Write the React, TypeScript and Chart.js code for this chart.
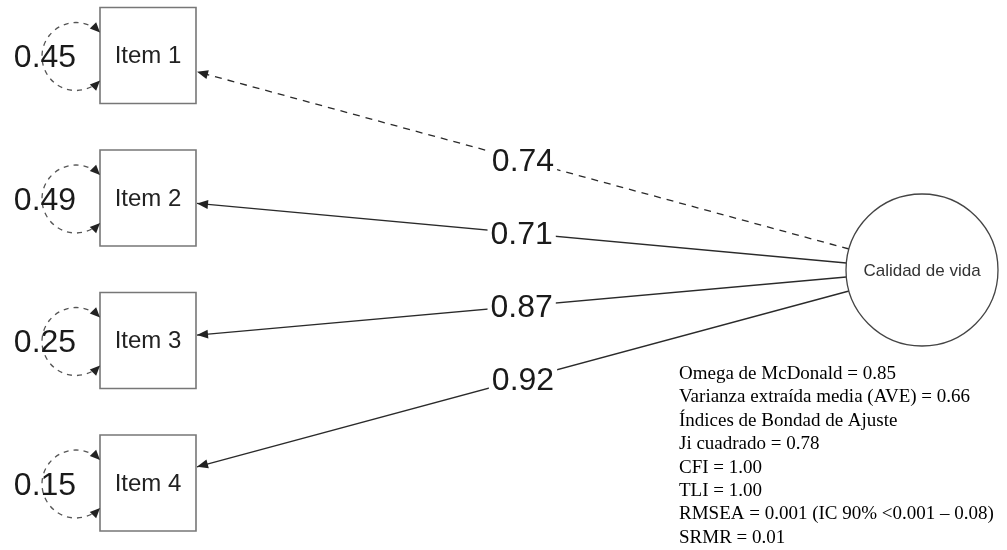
import React, { useEffect, useRef } from 'react';
import { Chart, registerables } from 'chart.js';

Chart.register(...registerables);

// ---- data ----
const items: string[] = ['Item 1', 'Item 2', 'Item 3', 'Item 4'];
const loadings: number[] = [0.74, 0.71, 0.87, 0.92];
const residuals: number[] = [0.45, 0.49, 0.25, 0.15];
const fixedLoading: boolean[] = [true, false, false, false];
const latentName = 'Calidad de vida';
const fitLines: string[] = [
  'Omega de McDonald = 0.85',
  'Varianza extraída media (AVE) = 0.66',
  'Índices de Bondad de Ajuste',
  'Ji cuadrado = 0.78',
  'CFI = 1.00',
  'TLI = 1.00',
  'RMSEA = 0.001 (IC 90% <0.001 – 0.08)',
  'SRMR = 0.01',
];

// ---- layout (diagram space = pixel space) ----
const W = 1007;
const H = 550;
const BOX_X = 148;
const BOX_Y0 = 55.5;
const BOX_STEP = 142.5;
const BOX_HALF = 48;
const LAT_X = 922;
const LAT_Y = 270;
const LAT_R = 76;

const boxY = (i: number) => BOX_Y0 + i * BOX_STEP;
const latAttach = (i: number) => {
  const dy = (i - 1.5) * 14;
  return { x: LAT_X - Math.sqrt(LAT_R * LAT_R - dy * dy), y: LAT_Y + dy };
};
const boxAttach = (i: number) => ({ x: BOX_X + BOX_HALF + 1, y: boxY(i) + (1.5 - i) * 10.8 });

const fmt = (v: number) => v.toFixed(2);

function arrowHead(ctx: CanvasRenderingContext2D, x: number, y: number, ang: number, len = 11, half = 4.5) {
  ctx.save();
  ctx.translate(x, y);
  ctx.rotate(ang);
  ctx.beginPath();
  ctx.moveTo(0, 0);
  ctx.lineTo(-len, -half);
  ctx.lineTo(-len, half);
  ctx.closePath();
  ctx.fill();
  ctx.restore();
}

const diagramPlugin = {
  id: 'diagram',
  afterDatasetsDraw(chart: any) {
    const ctx: CanvasRenderingContext2D = chart.ctx;
    const sx = chart.scales.x;
    const sy = chart.scales.y;
    const px = (v: number) => sx.getPixelForValue(v);
    const py = (v: number) => sy.getPixelForValue(v);
    ctx.save();

    // path arrowheads + loading labels
    items.forEach((_, i) => {
      const a = latAttach(i);
      const b = boxAttach(i);
      const x1 = px(a.x), y1 = py(a.y), x2 = px(b.x), y2 = py(b.y);
      const ang = Math.atan2(y2 - y1, x2 - x1);
      ctx.fillStyle = '#222';
      arrowHead(ctx, x2, y2, ang);
      const mx = (x1 + x2) / 2;
      const my = (y1 + y2) / 2 + 1;
      ctx.font = '32px "Liberation Sans", Arial, sans-serif';
      const label = fmt(loadings[i]);
      const w = ctx.measureText(label).width;
      ctx.fillStyle = '#ffffff';
      ctx.fillRect(mx - w / 2 - 3, my - 14, w + 6, 28);
      ctx.fillStyle = '#1a1a1a';
      ctx.textAlign = 'center';
      ctx.textBaseline = 'middle';
      ctx.fillText(label, mx, my + 1);
    });

    // item texts
    ctx.font = '24px "Liberation Sans", Arial, sans-serif';
    ctx.fillStyle = '#222';
    ctx.textAlign = 'center';
    ctx.textBaseline = 'middle';
    items.forEach((name, i) => {
      ctx.fillText(name, px(BOX_X), py(boxY(i)) + 1);
    });

    // latent text
    ctx.font = '17px "Liberation Sans", Arial, sans-serif';
    ctx.fillStyle = '#333';
    ctx.fillText(latentName, px(LAT_X), py(LAT_Y) + 1);

    // residual variance arcs
    residuals.forEach((r, i) => {
      const cx = px(BOX_X - BOX_HALF - 24);
      const cy = py(boxY(i)) + 1;
      const rad = 34;
      ctx.strokeStyle = '#555';
      ctx.lineWidth = 1.3;
      ctx.setLineDash([5, 5]);
      ctx.beginPath();
      ctx.arc(cx, cy, rad, -Math.PI / 4 - 0.12, Math.PI / 4 + 0.12, true);
      ctx.stroke();
      ctx.setLineDash([]);
      ctx.fillStyle = '#222';
      const t1 = -Math.PI / 4;
      arrowHead(ctx, cx + rad * Math.cos(t1), cy + rad * Math.sin(t1), Math.atan2(Math.cos(t1), -Math.sin(t1)), 10, 4.5);
      const t2 = Math.PI / 4;
      arrowHead(ctx, cx + rad * Math.cos(t2), cy + rad * Math.sin(t2), Math.atan2(-Math.cos(t2), Math.sin(t2)), 10, 4.5);
      ctx.font = '32px "Liberation Sans", Arial, sans-serif';
      ctx.fillStyle = '#1a1a1a';
      ctx.textAlign = 'center';
      ctx.textBaseline = 'middle';
      ctx.fillText(fmt(r), cx - 31, cy + 2);
    });

    // fit statistics
    ctx.font = '19px "Liberation Serif", "Times New Roman", serif';
    ctx.fillStyle = '#000';
    ctx.textAlign = 'left';
    ctx.textBaseline = 'middle';
    fitLines.forEach((t, k) => {
      ctx.fillText(t, 679, 374 + k * 23.4);
    });

    ctx.restore();
  },
};

export default function App() {
  const ref = useRef<HTMLCanvasElement | null>(null);
  useEffect(() => {
    if (!ref.current) return;
    document.body.style.margin = '0';
    const pathSets = items.map((_, i) => ({
      type: 'scatter' as const,
      data: [latAttach(i), boxAttach(i)],
      showLine: true,
      borderColor: '#2a2a2a',
      borderWidth: 1.3,
      borderDash: fixedLoading[i] ? [7, 6] : [],
      pointRadius: 0,
      clip: false,
      order: 3,
    }));
    const chart = new Chart(ref.current, {
      type: 'scatter',
      data: {
        datasets: [
          ...pathSets,
          {
            data: items.map((_, i) => ({ x: BOX_X, y: boxY(i) })),
            pointStyle: 'rect',
            pointRadius: BOX_HALF / Math.SQRT1_2,
            backgroundColor: '#ffffff',
            borderColor: '#777',
            borderWidth: 1.6,
            clip: false,
            order: 2,
          },
          {
            data: [{ x: LAT_X, y: LAT_Y }],
            pointStyle: 'circle',
            pointRadius: LAT_R,
            backgroundColor: '#ffffff',
            borderColor: '#444',
            borderWidth: 1.3,
            clip: false,
            order: 1,
          },
        ] as any,
      },
      options: {
        animation: false,
        responsive: false,
        events: [],
        layout: { padding: 0, autoPadding: false },
        plugins: { legend: { display: false }, tooltip: { enabled: false } },
        scales: {
          x: { type: 'linear', min: 0, max: W, display: false },
          y: { type: 'linear', min: 0, max: H, reverse: true, display: false },
        },
      },
      plugins: [diagramPlugin],
    });
    return () => chart.destroy();
  }, []);
  return (
    <div style={{ position: 'absolute', left: 0, top: 0, width: W, height: H, background: '#fff' }}>
      <canvas ref={ref} width={W} height={H} style={{ display: 'block' }} />
    </div>
  );
}
